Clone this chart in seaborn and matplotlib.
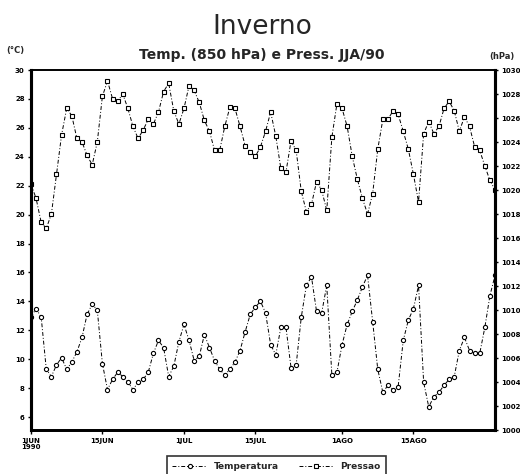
import matplotlib
matplotlib.use("Agg")
import matplotlib.pyplot as plt
from matplotlib.lines import Line2D
import pandas as pd
import seaborn as sns

# Daily series, 1 Jun - 31 Aug 1990
dias = pd.date_range("1990-06-01", "1990-08-31", freq="D")

temperatura = [
    12.9, 13.5, 12.9, 9.3, 8.8, 9.6, 10.1, 9.3, 9.8, 10.5,
    11.5, 13.1, 13.8, 13.4, 9.7, 7.9, 8.6, 9.1, 8.8, 8.4,
    7.9, 8.4, 8.6, 9.1, 10.4, 11.3, 10.8, 8.8, 9.5, 11.2,
    12.4, 11.3, 9.9, 10.2, 11.7, 10.8, 9.9, 9.3, 8.9, 9.3,
    9.8, 10.6, 11.9, 13.1, 13.6, 14.0, 13.2, 11.0, 10.3, 12.2,
    12.2, 9.4, 9.6, 12.9, 15.1, 15.7, 13.3, 13.2, 15.1, 8.9,
    9.1, 11.0, 12.4, 13.3, 14.1, 15.0, 15.8, 12.6, 9.3, 7.7,
    8.2, 7.9, 8.1, 11.3, 12.7, 13.5, 15.1, 8.4, 6.7, 7.4,
    7.7, 8.2, 8.6, 8.8, 10.6, 11.5, 10.6, 10.4, 10.4, 12.2,
    14.4, 15.8,
]

pressao = [
    1020.5, 1019.3, 1017.3, 1016.8, 1018.0, 1021.3, 1024.6, 1026.8, 1026.2, 1024.3,
    1024.0, 1022.9, 1022.1, 1024.0, 1027.8, 1029.1, 1027.6, 1027.4, 1028.0, 1026.8,
    1025.3, 1024.3, 1025.0, 1025.9, 1025.5, 1026.5, 1028.2, 1028.9, 1026.6, 1025.5,
    1026.8, 1028.7, 1028.3, 1027.3, 1025.8, 1024.9, 1023.3, 1023.3, 1025.3, 1026.9,
    1026.8, 1025.3, 1023.7, 1023.2, 1022.8, 1023.6, 1024.9, 1026.5, 1024.5, 1021.8,
    1021.5, 1024.1, 1023.3, 1019.9, 1018.2, 1018.8, 1020.7, 1020.0, 1018.3, 1024.4,
    1027.2, 1026.8, 1025.3, 1022.8, 1020.9, 1019.3, 1018.0, 1019.7, 1023.4, 1025.9,
    1025.9, 1026.6, 1026.3, 1024.9, 1023.4, 1021.3, 1019.0, 1024.7, 1025.7, 1024.7,
    1025.3, 1026.8, 1027.4, 1026.6, 1024.9, 1026.1, 1025.3, 1023.6, 1023.3, 1022.0,
    1020.8, 1020.0,
]

tick_datas = ["1990-06-01", "1990-06-15", "1990-07-01", "1990-07-15", "1990-08-01", "1990-08-15"]
tick_rotulos = ["1JUN\n1990", "15JUN", "1JUL", "15JUL", "1AGO", "15AGO"]

temp_ticks = list(range(6, 31, 2))
press_ticks = list(range(1000, 1031, 2))

df = pd.DataFrame({"data": dias, "temperatura": temperatura, "pressao": pressao})

sns.set_style("ticks")
plt.rcParams["font.family"] = ["DejaVu Sans"]

fig = plt.figure(figsize=(5.2, 4.74), dpi=100)
ax = fig.add_axes([0.0596, 0.0928, 0.8924, 0.7594])
ax2 = ax.twinx()

linha = dict(color="black", linewidth=0.7, linestyle=(0, (4, 2, 1, 2)),
             markersize=3.0, markerfacecolor="white", markeredgecolor="black",
             markeredgewidth=0.8)

sns.lineplot(data=df, x="data", y="temperatura", ax=ax, marker="o", **linha)
sns.lineplot(data=df, x="data", y="pressao", ax=ax2, marker="s", **linha)

ax.set_xlim(pd.Timestamp("1990-06-01"), pd.Timestamp("1990-08-31"))
ax.set_ylim(5.1, 30)
ax2.set_ylim(1000, 1030)

ax.set_xticks(pd.to_datetime(tick_datas))
ax.set_xticklabels(tick_rotulos, fontsize=5, fontweight="bold", linespacing=0.9)
ax.set_yticks(temp_ticks)
ax.set_yticklabels([str(t) for t in temp_ticks], fontsize=5, fontweight="bold")
ax2.set_yticks(press_ticks)
ax2.set_yticklabels([str(p) for p in press_ticks], fontsize=5, fontweight="bold")

for a in (ax, ax2):
    a.set_xlabel("")
    a.set_ylabel("")
    a.tick_params(axis="both", direction="out", length=2.5, width=1.0, pad=2, colors="black")
    for s in a.spines.values():
        s.set_color("black")
    a.spines["left"].set_linewidth(2.2)
    a.spines["right"].set_linewidth(2.2)
    a.spines["bottom"].set_linewidth(2.0)
    a.spines["top"].set_linewidth(1.2)
    a.spines["top"].set_visible(True)
    a.spines["right"].set_visible(True)
ax.tick_params(axis="x", length=3, pad=3)

fig.text(0.504, 0.942, "Inverno", ha="center", va="center", fontsize=19)
fig.text(0.504, 0.884, "Temp. (850 hPa) e Press. JJA/90", ha="center", va="center",
         fontsize=10, fontweight="bold")
fig.text(0.012, 0.893, "(°C)", ha="left", va="center", fontsize=6, fontweight="bold")
fig.text(0.99, 0.88, "(hPa)", ha="right", va="center", fontsize=6, fontweight="bold")

handles = [
    Line2D([], [], marker="o", **linha),
    Line2D([], [], marker="s", **linha),
]
leg = fig.legend(handles, ["Temperatura", "Pressao"], loc="lower center",
                 bbox_to_anchor=(0.532, -0.014), ncol=2, frameon=True, fancybox=False,
                 edgecolor="black", handlelength=3.8, columnspacing=2.2,
                 prop={"size": 6.5, "weight": "bold"}, borderpad=0.6)
leg.get_frame().set_linewidth(1.2)

fig.savefig("out.png", dpi=100, facecolor="white")
